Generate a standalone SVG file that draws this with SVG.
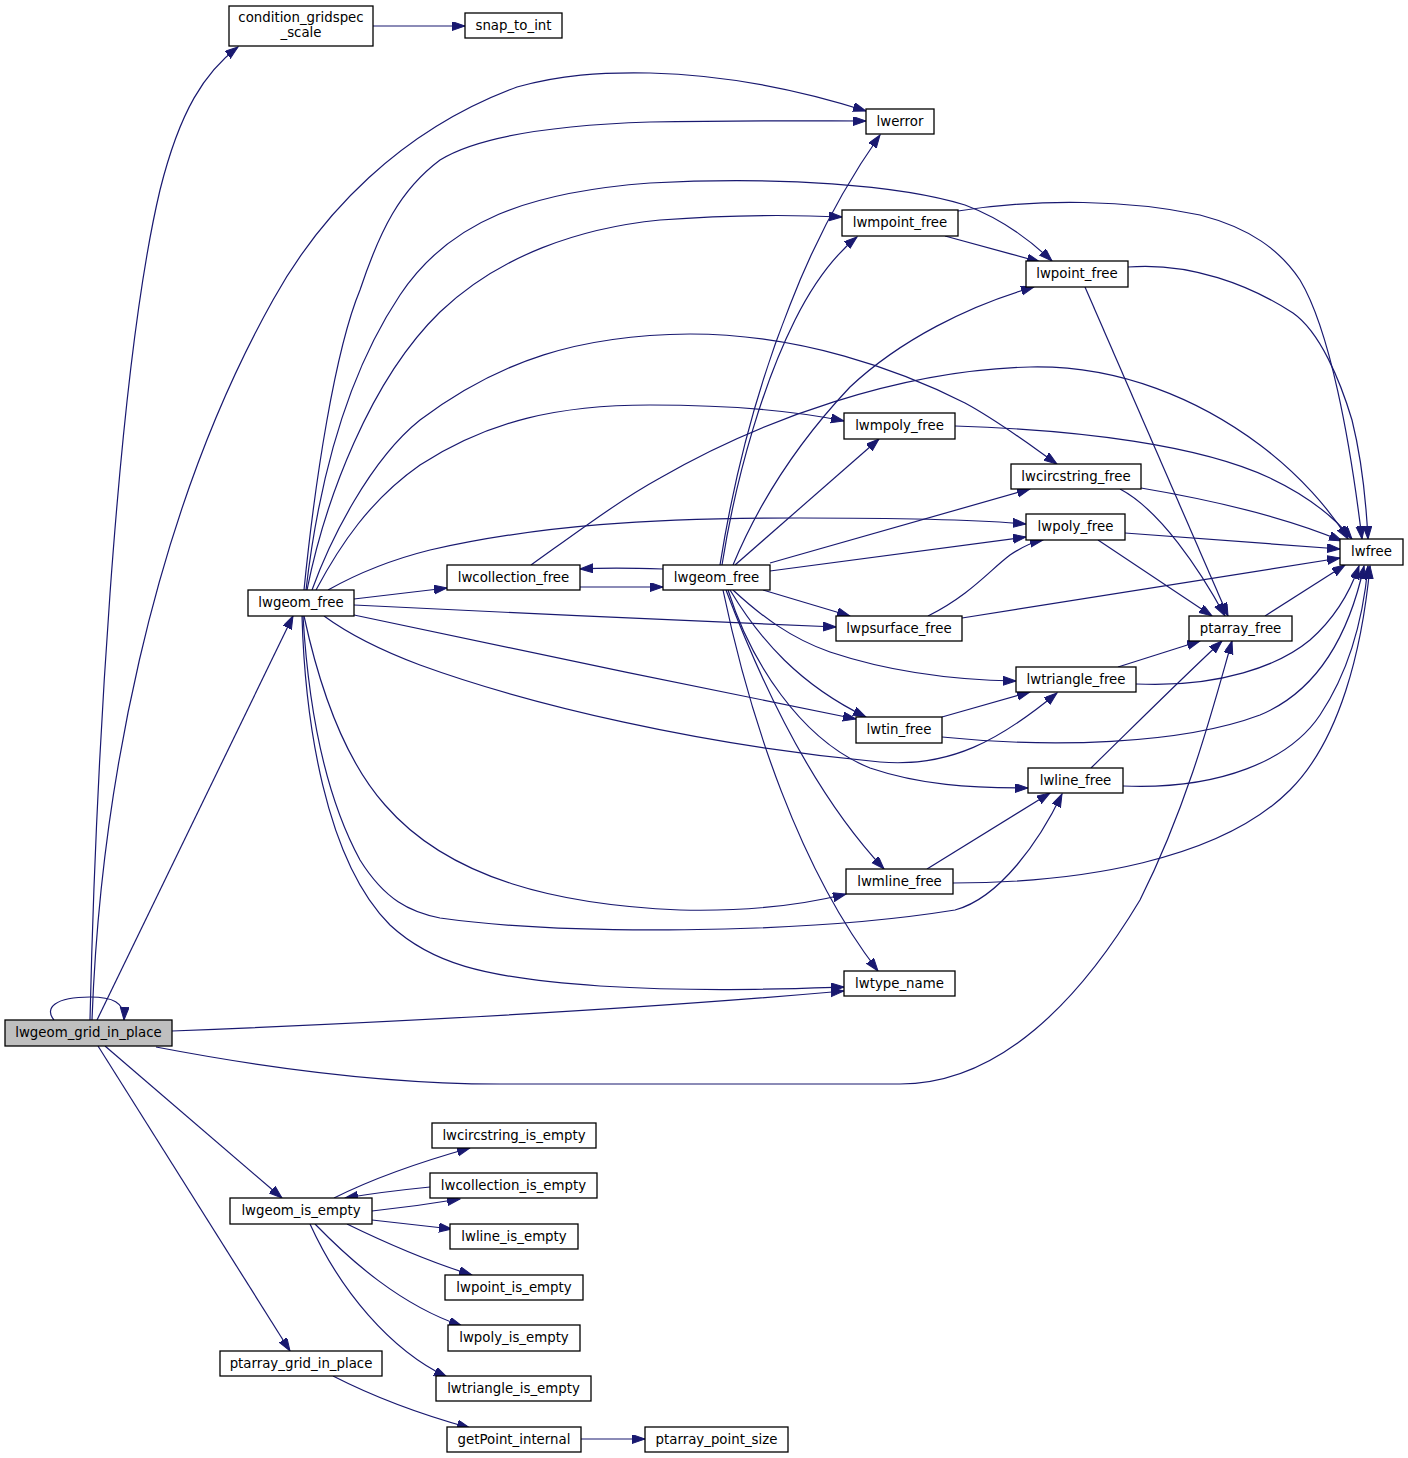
<svg xmlns="http://www.w3.org/2000/svg" width="1408" height="1458" viewBox="0 0 1408 1458">
<style>
.n rect{fill:#fff;stroke:#000;stroke-width:1.3}
.n text{font-family:"DejaVu Sans",sans-serif;font-size:13.33px;text-anchor:middle;fill:#000}
#g0 rect{fill:#bfbfbf}
#edges path{fill:none;stroke:#191970;stroke-width:1.2;marker-end:url(#ah)}
</style>
<defs>
<marker id="ah" markerUnits="userSpaceOnUse" markerWidth="14" markerHeight="10" refX="13" refY="4.5" orient="auto">
<path d="M0,0 L13,4.5 L0,9 z" fill="#191970" stroke="#191970" stroke-width="1"/>
</marker>
</defs>
<rect width="1408" height="1458" fill="#fff"/>
<g id="edges">
<path d="M90,1020 C95,800 115,380 160,190 C180,110 205,72 238,47"/>
<path d="M54,1020 C44,1008 55,997 90,997 C112,997 125,1002 124,1020"/>
<path d="M92,1020 C100,800 150,520 273,300 C320,215 400,130 517,87 C560,75 600,72 650,73 C730,75 800,90 866,111"/>
<path d="M97,1020 L293,616"/>
<path d="M172,1031 C400,1022 650,1008 844,991"/>
<path d="M156,1047 C250,1065 380,1084 500,1084 L900,1084 C1000,1084 1080,1000 1140,900 C1190,800 1215,700 1232,641"/>
<path d="M105,1046 L282,1198"/>
<path d="M98,1046 L290,1351"/>
<path d="M373,26 L465,26"/>
<path d="M304,590 C315,480 335,350 360,290 C380,230 400,190 440,160 C480,135 560,125 650,122 C750,120 820,121 866,121"/>
<path d="M306,590 C320,470 350,370 400,295 C450,220 530,192 650,183 C780,176 900,185 965,205 C1000,218 1030,240 1052,261"/>
<path d="M307,590 C325,500 370,380 440,312 C500,255 580,228 660,220 C740,214 800,215 842,217"/>
<path d="M312,590 C330,540 370,460 420,420 C500,360 580,335 690,334 C800,334 900,370 965,403 C1000,422 1030,445 1057,464"/>
<path d="M316,590 C340,545 370,500 420,465 C490,420 560,405 650,405 C740,405 800,412 844,421"/>
<path d="M328,590 C360,572 390,560 430,550 C540,525 650,518 800,518 C900,518 980,520 1026,524"/>
<path d="M354,599 L447,588"/>
<path d="M354,605 C500,612 700,622 836,627"/>
<path d="M354,615 C500,646 700,688 856,719"/>
<path d="M324,616 C350,635 380,650 420,665 C530,705 700,745 880,762 C950,768 1000,740 1057,693"/>
<path d="M304,616 C320,690 345,760 385,805 C450,880 560,905 680,910 C760,912 810,903 846,894"/>
<path d="M303,616 C308,700 322,790 360,860 C385,900 410,912 440,918 C560,935 800,935 955,910 C1000,898 1040,840 1062,794"/>
<path d="M302,616 C305,720 325,860 390,925 C430,962 480,978 600,986 C700,992 780,989 844,987"/>
<path d="M663,569 C630,568 600,568 580,569"/>
<path d="M580,587 C610,587 640,587 663,587"/>
<path d="M720,565 C735,470 760,380 790,305 C815,240 845,185 880,135"/>
<path d="M722,565 C737,470 765,380 795,320 C815,280 835,255 857,237"/>
<path d="M733,565 C760,500 800,440 850,387 C900,340 970,305 1034,287"/>
<path d="M735,565 L879,439"/>
<path d="M770,563 L1030,489"/>
<path d="M770,571 L1026,537"/>
<path d="M763,590 L850,616"/>
<path d="M733,590 C760,615 790,638 830,652 C890,672 950,680 1016,681"/>
<path d="M730,590 C760,640 800,685 866,717"/>
<path d="M728,590 C750,660 800,740 870,768 C920,785 970,788 1028,788"/>
<path d="M726,590 C760,680 810,790 884,869"/>
<path d="M723,590 C750,720 800,870 878,971"/>
<path d="M945,236 L1040,262"/>
<path d="M958,211 C1040,198 1130,200 1200,215 C1250,228 1280,250 1300,280 C1330,330 1350,440 1362,539"/>
<path d="M1128,267 C1190,262 1250,285 1293,313 C1320,332 1340,380 1352,420 C1362,460 1366,500 1368,539"/>
<path d="M1085,287 L1228,616"/>
<path d="M1120,489 C1160,510 1200,570 1225,616"/>
<path d="M1098,540 L1212,616"/>
<path d="M1141,488 C1200,498 1280,515 1342,541"/>
<path d="M955,426 C1080,430 1200,445 1270,478 C1310,497 1335,518 1352,539"/>
<path d="M1125,533 L1340,549"/>
<path d="M928,616 C970,595 990,570 1010,555 C1025,545 1033,542 1043,540"/>
<path d="M962,618 L1340,558"/>
<path d="M1265,616 L1345,565"/>
<path d="M1118,667 L1200,641"/>
<path d="M1136,684 C1220,688 1280,665 1310,640 C1335,618 1350,592 1359,566"/>
<path d="M942,717 L1030,692"/>
<path d="M942,737 C1050,748 1180,745 1260,715 C1320,690 1350,630 1364,566"/>
<path d="M1091,768 C1130,730 1180,680 1222,641"/>
<path d="M1123,786 C1220,790 1290,760 1320,715 C1350,670 1363,620 1368,566"/>
<path d="M927,869 L1050,793"/>
<path d="M953,883 C1080,883 1220,860 1290,790 C1340,740 1362,650 1370,566"/>
<path d="M531,565 C580,530 620,500 660,478 C760,420 900,370 1030,367 C1120,365 1200,400 1260,445 C1300,475 1330,510 1348,539"/>
<path d="M334,1198 C370,1180 420,1162 470,1148"/>
<path d="M430,1187 C400,1190 375,1193 345,1198"/>
<path d="M372,1211 C400,1208 430,1204 460,1199"/>
<path d="M372,1220 L452,1229"/>
<path d="M347,1224 C390,1245 430,1262 472,1275"/>
<path d="M315,1224 C350,1260 400,1305 462,1326"/>
<path d="M310,1224 C340,1290 390,1350 447,1377"/>
<path d="M333,1376 C380,1400 430,1417 470,1428"/>
<path d="M581,1439 L645,1439"/>
</g>
<g id="g0" class="n"><rect x="5" y="1020" width="167" height="26"/><text x="88.5" y="1037">lwgeom_grid_in_place</text></g>
<g id="n_cgs" class="n"><rect x="229" y="6" width="144" height="40"/><text x="301" y="21.5">condition_gridspec</text><text x="301" y="36.5">_scale</text></g>
<g id="n_sti" class="n"><rect x="465" y="13" width="97" height="25"/><text x="513.5" y="30">snap_to_int</text></g>
<g id="n_err" class="n"><rect x="866" y="109" width="68" height="25"/><text x="900" y="126">lwerror</text></g>
<g id="n_mpt" class="n"><rect x="842" y="210" width="116" height="26"/><text x="900" y="227">lwmpoint_free</text></g>
<g id="n_pt" class="n"><rect x="1026" y="261" width="102" height="26"/><text x="1077" y="278">lwpoint_free</text></g>
<g id="n_mpo" class="n"><rect x="844" y="413" width="111" height="26"/><text x="899.5" y="430">lwmpoly_free</text></g>
<g id="n_circ" class="n"><rect x="1011" y="464" width="130" height="25"/><text x="1076" y="481">lwcircstring_free</text></g>
<g id="n_poly" class="n"><rect x="1026" y="514" width="99" height="26"/><text x="1075.5" y="531">lwpoly_free</text></g>
<g id="n_free" class="n"><rect x="1340" y="539" width="63" height="26"/><text x="1371.5" y="556">lwfree</text></g>
<g id="n_pta" class="n"><rect x="1189" y="616" width="103" height="25"/><text x="1240.5" y="633">ptarray_free</text></g>
<g id="n_psf" class="n"><rect x="836" y="616" width="126" height="25"/><text x="899" y="633">lwpsurface_free</text></g>
<g id="n_tri" class="n"><rect x="1016" y="667" width="120" height="25"/><text x="1076" y="684">lwtriangle_free</text></g>
<g id="n_tin" class="n"><rect x="856" y="717" width="86" height="26"/><text x="899" y="734">lwtin_free</text></g>
<g id="n_line" class="n"><rect x="1028" y="768" width="95" height="25"/><text x="1075.5" y="785">lwline_free</text></g>
<g id="n_mline" class="n"><rect x="846" y="869" width="107" height="25"/><text x="899.5" y="886">lwmline_free</text></g>
<g id="n_type" class="n"><rect x="844" y="971" width="111" height="25"/><text x="899.5" y="988">lwtype_name</text></g>
<g id="n_gf1" class="n"><rect x="248" y="590" width="106" height="26"/><text x="301" y="607">lwgeom_free</text></g>
<g id="n_coll" class="n"><rect x="447" y="565" width="133" height="25"/><text x="513.5" y="582">lwcollection_free</text></g>
<g id="n_gf2" class="n"><rect x="663" y="565" width="107" height="25"/><text x="716.5" y="582">lwgeom_free</text></g>
<g id="n_cie" class="n"><rect x="432" y="1123" width="164" height="25"/><text x="514" y="1140">lwcircstring_is_empty</text></g>
<g id="n_coie" class="n"><rect x="430" y="1173" width="167" height="25"/><text x="513.5" y="1190">lwcollection_is_empty</text></g>
<g id="n_gie" class="n"><rect x="230" y="1198" width="142" height="26"/><text x="301" y="1215">lwgeom_is_empty</text></g>
<g id="n_lie" class="n"><rect x="450" y="1224" width="128" height="25"/><text x="514" y="1241">lwline_is_empty</text></g>
<g id="n_pie" class="n"><rect x="445" y="1275" width="138" height="25"/><text x="514" y="1292">lwpoint_is_empty</text></g>
<g id="n_poie" class="n"><rect x="448" y="1325" width="132" height="26"/><text x="514" y="1342">lwpoly_is_empty</text></g>
<g id="n_tie" class="n"><rect x="436" y="1376" width="155" height="25"/><text x="513.5" y="1393">lwtriangle_is_empty</text></g>
<g id="n_pgip" class="n"><rect x="220" y="1351" width="162" height="25"/><text x="301" y="1368">ptarray_grid_in_place</text></g>
<g id="n_gpi" class="n"><rect x="447" y="1427" width="134" height="25"/><text x="514" y="1444">getPoint_internal</text></g>
<g id="n_pps" class="n"><rect x="645" y="1427" width="143" height="25"/><text x="716.5" y="1444">ptarray_point_size</text></g>
</svg>
